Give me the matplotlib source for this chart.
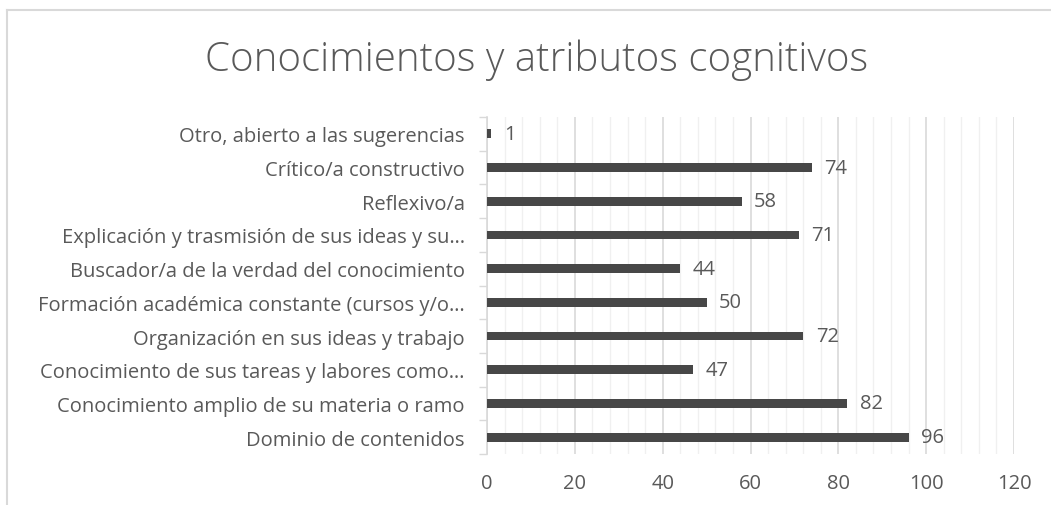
import matplotlib.pyplot as plt
from matplotlib.lines import Line2D
from matplotlib.ticker import MultipleLocator, FixedLocator

# categories listed bottom to top (barh draws the first one at the bottom)
categories = [
    'Dominio de contenidos',
    'Conocimiento amplio de su materia o ramo',
    'Conocimiento de sus tareas y labores como…',
    'Organización en sus ideas y trabajo',
    'Formación académica constante (cursos y/o…',
    'Buscador/a de la verdad del conocimiento',
    'Explicación y trasmisión de sus ideas y su…',
    'Reflexivo/a',
    'Crítico/a constructivo',
    'Otro, abierto a las sugerencias',
]
values = [96, 82, 47, 72, 50, 44, 71, 58, 74, 1]
x_ticks = [0, 20, 40, 60, 80, 100, 120]

text_color = '#595959'
grid_major = '#d9d9d9'
grid_minor = '#f0f0f0'
bar_color = '#474747'

plt.rcParams['font.family'] = ['Open Sans', 'DejaVu Sans']

fig = plt.figure(figsize=(10.51, 5.06), dpi=100)
ax = fig.add_axes([487 / 1051, 1 - 455 / 506, (1014 - 487) / 1051, (455 - 118) / 506])

pos = list(range(len(categories)))
bars = ax.barh(pos, values, height=0.26, color=bar_color, zorder=3)
ax.bar_label(bars, padding=9, color=text_color, fontsize=14.5)

ax.set_xlim(0, 120)
ax.set_ylim(-0.5, len(categories) - 0.5)

ax.xaxis.set_major_locator(FixedLocator(x_ticks))
ax.xaxis.set_minor_locator(MultipleLocator(4))
ax.grid(axis='x', which='major', color=grid_major, linewidth=1.2, zorder=0)
ax.grid(axis='x', which='minor', color=grid_minor, linewidth=1.0, zorder=0)
ax.tick_params(axis='x', which='both', length=0, labelsize=14.5, labelcolor=text_color, pad=14)

ax.set_yticks(pos)
ax.set_yticklabels(categories)
ax.yaxis.set_minor_locator(FixedLocator([p - 0.5 for p in pos] + [len(pos) - 0.5]))
ax.tick_params(axis='y', which='major', length=0, labelsize=14.5, labelcolor=text_color, pad=16)
ax.tick_params(axis='y', which='minor', length=6, color=grid_major, width=1)

for side in ['top', 'right', 'bottom']:
    ax.spines[side].set_visible(False)
ax.spines['left'].set_color(grid_major)
ax.spines['left'].set_linewidth(1.2)

fig.text(537 / 1051, 1 - 60 / 506, 'Conocimientos y atributos cognitivos',
         ha='center', va='center', fontsize=29, color=text_color, fontweight='light')

# chart area border (only top and left edges visible in the crop)
fig.add_artist(Line2D([7 / 1051, 1], [1 - 11 / 506, 1 - 11 / 506], transform=fig.transFigure,
                      color=grid_major, linewidth=1.5))
fig.add_artist(Line2D([7 / 1051, 7 / 1051], [0, 1 - 11 / 506], transform=fig.transFigure,
                      color=grid_major, linewidth=1.5))

fig.savefig('out.png', dpi=100)
